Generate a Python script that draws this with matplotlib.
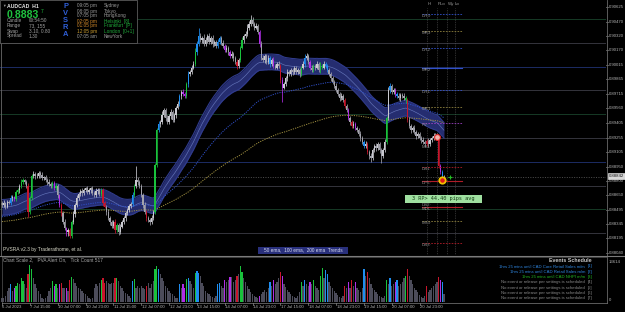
import numpy as np
import matplotlib
matplotlib.use('Agg')
import matplotlib.pyplot as plt
from matplotlib.patches import Rectangle
from matplotlib.lines import Line2D

plt.rcParams['font.family'] = ['Liberation Sans', 'DejaVu Sans']

# ---------------- data ----------------
first_open = 0.8857
closes = [
 .8855,.8857,.8853,.8858,.8857,.8862,.8863,.8861,.8868,.8870,
 .8875,.8879,.8881,.8879,.8875,.8847,.8862,.8885,.8887,.8885,
 .8885,.8888,.8886,.8883,.8884,.8881,.8879,.8877,.8875,.8878,
 .8872,.8875,.8865,.8855,.8846,.8837,.8831,.8826,.8828,.8822,
 .8837,.8845,.8855,.8862,.8866,.8869,.8867,.8870,.8872,.8868,
 .8870,.8872,.8867,.8865,.8869,.8870,.8866,.8870,.8857,.8853,
 .8847,.8841,.8837,.8833,.8837,.8828,.8834,.8826,.8832,.8837,
 .8841,.8846,.8849,.8854,.8856,.8865,.8875,.8881,.8879,.8875,
 .8865,.8855,.8847,.8841,.8839,.8837,.8841,.8847,.8897,.8933,
 .8940,.8942,.8949,.8954,.8946,.8942,.8948,.8952,.8944,.8949,
 .8957,.8961,.8969,.8973,.8971,.8969,.8982,.8992,.8994,.8999,
 .9003,.9015,.9024,.9032,.9028,.9030,.9024,.9028,.9032,.9026,
 .9030,.9024,.9026,.9022,.9026,.9030,.9025,.9022,.9017,.9020,
 .9015,.9011,.9013,.9009,.9005,.9001,.9007,.9020,.9028,.9032,
 .9034,.9041,.9045,.9049,.9045,.9041,.9043,.9036,.9024,.9009,
 .9007,.9011,.9005,.9009,.9003,.9007,.9001,.8999,.9003,.9001,
 .8986,.8978,.8982,.8988,.8994,.8992,.8996,.8994,.8999,.8994,
 .8996,.8992,.8999,.9003,.9009,.9011,.9005,.8999,.8996,.9001,
 .8999,.9003,.8996,.9001,.8999,.9003,.9001,.8996,.8992,.8988,
 .8984,.8980,.8975,.8971,.8967,.8969,.8965,.8959,.8954,.8946,
 .8942,.8938,.8940,.8936,.8933,.8929,.8925,.8921,.8917,.8919,
 .8910,.8906,.8904,.8912,.8917,.8914,.8919,.8912,.8906,.8912,
 .8921,.8946,.8975,.8980,.8973,.8975,.8971,.8969,.8967,.8970,
 .8969,.8967,.8965,.8944,.8938,.8933,.8936,.8931,.8927,.8929,
 .8925,.8923,.8921,.8919,.8922,.8919,.8923,.8925,.8927,.8928,
 .8925,.8896,.8889,.8881,.8884]

wick_up_pips = [
 2,3,1,2,2,3,2,1,2,3, 2,3,2,1,2,3,2,2,3,2, 3,2,2,3,1,2,2,3,2,2, 2,3,2,1,2,2,3,1,2,2,
 2,3,2,3,2,2,3,2,2,3, 2,2,3,2,4,2,2,3,2,2, 2,3,2,2,2,3,2,2,3,2, 2,2,3,2,2,3,2,15,3,2,
 2,2,3,2,2,2,3,2,2,3, 3,2,4,3,2,3,2,3,2,2, 2,3,2,2,3,2,2,3,2,3, 3,4,3,8,3,2,4,3,2,3,
 2,3,2,2,3,2,2,3,2,3, 2,2,3,2,2,3,2,2,3,2, 3,4,3,5,3,2,3,2,2,3, 3,2,2,3,2,2,3,2,2,3,
 2,3,2,2,3,2,2,3,2,2, 3,2,2,3,4,3,2,2,3,2, 2,3,2,4,2,3,2,2,3,2, 2,2,3,2,2,3,2,2,2,3,
 2,2,3,2,2,2,3,2,2,3, 2,2,3,2,2,3,2,2,3,2, 3,2,4,3,2,3,2,2,3,2, 2,3,2,2,3,2,2,3,2,2,
 2,2,3,2,2,3,2,2,3,2, 2,2,2,2,2]
wick_dn_pips = [
 2,2,3,2,1,2,3,2,2,2, 3,2,2,2,3,5,2,2,2,3, 2,2,3,2,2,2,3,2,2,3, 2,2,3,2,3,2,3,4,4,2,
 2,2,3,2,2,2,3,2,2,2, 2,3,2,2,2,3,2,2,3,2, 3,2,3,2,2,3,2,3,2,2, 2,3,2,2,3,2,2,2,3,2,
 2,3,2,3,2,3,2,2,2,2, 2,3,2,2,3,2,2,3,2,2, 3,2,2,3,2,2,2,3,2,2, 2,2,3,2,2,3,2,2,3,2,
 2,3,2,2,3,2,2,3,2,2, 3,2,2,3,2,4,2,2,2,3, 2,2,3,2,2,3,2,2,3,2, 2,3,2,2,3,2,3,2,2,3,
 3,15,2,2,3,2,2,3,2,2, 2,3,2,2,3,2,2,3,2,2, 3,2,2,3,2,2,3,2,2,3, 2,3,2,2,3,2,2,3,2,2,
 3,2,2,3,2,2,3,2,2,3, 2,3,4,2,2,3,2,3,7,2, 2,2,2,3,2,2,3,2,2,3, 2,2,3,2,2,3,2,2,3,2,
 2,3,2,3,2,3,2,2,2,2, 2,2,2,2,2]

# PVSRA bar class: n neutral, g climax up, r climax down, b rising-vol up, m rising-vol down
bar_class = (
 "nnnnnbnmggnggnnrggnn" "nnnnnnnnngmgnmrnnmnr" "gnnnnnnnnnnnnnnnngrr" "nnnnnrgnnnnnnnnbgnnn"
 "nnnrnnnnggbnnnnnnnnn" "nnbnmmgbnnngbbnnnnnn" "nnnnbbnnmnnmnnnrnggn" "nnnnnnnnmnnnnnbnmnnn"
 "rmnnnnnnnnnngnbnnmng" "nnnggnbbnnnnnnnnnrnm" "nrnmnnnnbnrnnnnnnnnn" "ngnbnnmbnnnngrnnnnnn"
 "nnnnrnnnnnnrmbn")

volume = [
 1400,1400,2000,3700,4800,6100,3700,4800,5400,6500, 6100,8200,7100,6100,4800,9500,12600,11200,8200,6100,
 4800,3700,2700,1400,1000,1400,2000,3700,4800,7100, 5400,6100,4800,6100,6500,4800,4800,4800,3700,7500,
 8500,7800,6500,5400,4800,4400,3700,3100,2700,2000, 1400,1000,1400,4800,6100,5400,6500,7500,8200,6500,
 7100,6500,6100,6500,6500,8200,8200,7100,5400,4800, 3700,3100,2700,2000,1400,7100,7800,4800,5400,4800,
 5400,4800,4400,5400,6500,4800,6100,7100,11200,12200, 11200,9500,8200,7100,5400,4800,3700,3100,2700,2000,
 1400,1400,6100,4800,6100,4800,7800,8200,7100,6100, 4800,9900,10500,9900,8800,6500,5400,3700,3100,2700,
 2000,1700,1400,2000,6100,6500,5400,4800,7500,6800, 7500,8500,8500,6800,7500,8800,9500,12200,10200,8200,
 6800,5400,4400,3400,2700,2000,1700,1400,2000,2700, 3400,4100,3400,4800,6800,5400,7500,6100,6800,8200,
 10200,8800,6100,5100,4100,3400,2700,2000,1700,1400, 2000,3400,6800,5400,7500,6100,5400,6800,6100,7500,
 5400,4800,4100,8800,11600,8200,10900,9500,6800,5400, 4800,3700,3100,2400,1700,1400,2000,5400,4800,6800,
 4800,7500,5400,6800,4800,4100,3400,4800,11200,8800, 10200,8200,6100,4800,4100,3400,2700,2000,1700,1400,
 2000,7500,6100,8200,5400,6100,6800,7500,5400,6100, 6800,8200,8800,11200,8800,7500,6100,4800,4100,3400,
 2400,1700,1400,2000,5400,3400,4100,4800,5400,6100, 6800,8500,7500,6800,2700]
volume_max_label = 13614

price_ticks = [0.90625, 0.90470, 0.90320, 0.90170, 0.90015, 0.89865, 0.89715, 0.89560, 0.89405,
               0.89255, 0.89105, 0.88950, 0.88800, 0.88650, 0.88495, 0.88345, 0.88195, 0.88040]
round_levels = [0.9050, 0.9025, 0.9000, 0.8975, 0.8950, 0.8925, 0.8900, 0.8875, 0.8850, 0.8825]
bid_price = 0.88842

time_labels = ["6 Jul 2023", "7 Jul 15:00", "10 Jul 07:00", "10 Jul 23:00", "11 Jul 15:00",
               "12 Jul 07:00", "12 Jul 23:00", "13 Jul 15:00", "14 Jul 07:00", "14 Jul 23:00",
               "17 Jul 15:00", "18 Jul 07:00", "18 Jul 23:00", "19 Jul 15:00", "20 Jul 07:00",
               "20 Jul 23:00"]
time_label_bars = [0, 16, 32, 48, 64, 80, 96, 112, 128, 144, 160, 176, 192, 208, 224, 240]

ema_seeds = {50: 0.8852, 100: 0.8842, 200: 0.8837}

pivot_names = ["DR3", "MR3", "DR2", "MR2", "DR1", "MR1", "PV", "MS1", "DS1", "DP5", "DS2", "MDL", "MS3", "DS3"]
pivot_prices = [0.90552, 0.90373, 0.90195, 0.89985, 0.89754, 0.89575, 0.89407, 0.89177, 0.88946,
                0.88799, 0.88568, 0.88525, 0.88378, 0.88147]
pivot_kinds = ["bd", "od", "bd", "bs", "bd", "od", "pd", "on", "rd", "rs", "nn", "rs", "od", "rd"]

events = ["1hrs 25 mins until CAD Core Retail Sales m/m", "1hrs 25 mins until CAD Retail Sales m/m",
          "1hrs 25 mins until CAD NHPI m/m", "No event or release per settings is scheduled",
          "No event or release per settings is scheduled", "No event or release per settings is scheduled",
          "No event or release per settings is scheduled"]
event_colors = ["#2f86e0", "#2f86e0", "#22b822", "#8a8a8a", "#8a8a8a", "#8a8a8a", "#8a8a8a"]

zones = ["Sydney", "Tokyo", "HongKong", "Helsinki  [8]", "Frankfurt  [P]", "London  [0+1]", "NewYork"]
zone_times = ["09:05 pm", "08:05 pm", "07:05 pm", "02:05 pm", "01:05 pm", "12:05 pm", "07:05 am"]
zone_time_colors = ["#9a9a9a", "#9a9a9a", "#9a9a9a", "#d0882a", "#d0882a", "#d0a030", "#9a9a9a"]
zone_colors = ["#9a9a9a", "#9a9a9a", "#9a9a9a", "#1fa83a", "#1fa83a", "#1fa83a", "#9a9a9a"]
info_keys = ["Candle", "Range", "Swap", "Spread"]
info_vals = ["00:54:50", "73, 155", "3.10, 0.80", "1.30"]

# ---------------- figure ----------------
W, H = 625, 312
fig = plt.figure(figsize=(W / 100, H / 100), dpi=100, facecolor='black')
fx = lambda px: px / W
fy = lambda py: 1 - py / H

PX0, PXS = 2.0, 1.74          # bar pixel geometry
xl = (-PX0 / PXS, (606 - PX0) / PXS)
P_TOP, P_PER_PX = 0.90699, 0.000105
yl = (P_TOP - 255 * P_PER_PX, P_TOP)

ax = fig.add_axes([0, 1 - 255 / H, 606 / W, 255 / H])
ax.set_facecolor('black')
ax.set_xlim(*xl)
ax.set_ylim(*yl)
ax.axis('off')

N = len(closes)
idx = np.arange(N)
c = np.array(closes)
o = np.array([first_open] + closes[:-1])
hi = np.maximum(o, c) + np.array(wick_up_pips) * 0.0001
lo = np.minimum(o, c) - np.array(wick_dn_pips) * 0.0001

# round-number level lines
lvl_cols = {0: '#163a26', 1: '#34343c', 2: '#1c2c64', 3: '#34343c'}
for k, p in enumerate(round_levels):
    ax.axhline(p, color=lvl_cols[(k) % 4], lw=0.7, zorder=1)
ax.axhline(bid_price, color='#6a6a6a', lw=0.5, ls=(0, (1.5, 2)), zorder=1)

# EMAs
def ema(vals, span, seed):
    a = 2.0 / (span + 1)
    out, e = [], seed
    for v in vals:
        e += a * (v - e)
        out.append(e)
    return np.array(out)

e50 = ema(closes, 50, ema_seeds[50])
e100 = ema(closes, 100, ema_seeds[100])
e200 = ema(closes, 200, ema_seeds[200])
hw = 0.00082
ax.fill_between(idx, e50 - hw, e50 + hw, color='#252d70', lw=0, zorder=2)
ax.plot(idx, e50 + hw, color='#303b8c', lw=0.8, zorder=2)
ax.plot(idx, e50 - hw, color='#303b8c', lw=0.8, zorder=2)
ax.plot(idx, e50, color='#7f93d8', lw=0.45, alpha=0.7, zorder=2)
ax.plot(idx, e100, color='#2f4fc8', lw=0.7, ls=(0, (1.2, 1.2)), zorder=2)
ax.plot(idx, e200, color='#a09040', lw=0.7, ls=(0, (1.2, 1.2)), zorder=2)

# candles
cmap = {'g': '#19c23c', 'r': '#c8162c', 'b': '#1f8ef0', 'm': '#b02ee6'}
ccols = []
for i in range(N):
    k = bar_class[i]
    if k in cmap:
        ccols.append(cmap[k])
    else:
        ccols.append('#c9c9d0' if c[i] >= o[i] else '#a2a2ac')
ax.vlines(idx, lo, hi, colors=ccols, lw=0.55, zorder=3)
body_b = np.minimum(o, c)
body_h = np.maximum(np.abs(c - o), 0.00006)
ax.bar(idx, body_h, bottom=body_b, width=0.72, color=ccols, lw=0, zorder=4)

# pivot area: vertical dotted columns
for px in [427, 437, 447, 455]:
    ax.plot([(px - PX0) / PXS] * 2, [yl[0], P_TOP - 8 * P_PER_PX], color='#5a5a5a',
            lw=0.5, ls=(0, (1, 1.5)), zorder=1)
for txt, px in zip(["H", "PLo", "Wy", "Lo"], [428, 438, 448, 455]):
    ax.text((px - PX0) / PXS, P_TOP - 4 * P_PER_PX, txt, color='#9a9a9a', fontsize=3.2,
            va='center', ha='left')

pk_col = {'b': '#3150c8', 'o': '#8c7f3c', 'p': '#9a3fc0', 'r': '#b01c28', 'n': None}
x0p, x1p = (422 - PX0) / PXS, (462 - PX0) / PXS
for name, p, kind in zip(pivot_names, pivot_prices, pivot_kinds):
    col = pk_col[kind[0]]
    if col is not None and kind[1] != 'n':
        ls = (0, (2, 1.5)) if kind[1] == 'd' else '-'
        ax.plot([x0p, x1p], [p, p], color=col, lw=0.8 if kind[1] == 's' else 0.6, ls=ls, zorder=5)
    ax.text(x0p, p - 2.2 * P_PER_PX, name + "\u00b7", color='#8e8e8e', fontsize=3.2,
            va='center', ha='left', zorder=6)

# markers
ax.plot([250], [0.89260], 'o', ms=4.2, mfc='#f3b4ac', mec='#e02a2a', mew=0.8, zorder=7)
ax.plot([253], [0.88809], 'o', ms=4.6, mfc='#e01818', mec='#f0c200', mew=1.3, zorder=7)
ax.plot([257.5], [0.88840], '+', ms=3, color='#22c022', mew=0.8, zorder=7)

# green RP box
ax.add_patch(Rectangle(((405 - PX0) / PXS, P_TOP - 202.5 * P_PER_PX), 77 / PXS, 7.5 * P_PER_PX,
                       facecolor='#9fe0a0', edgecolor='none', zorder=8))
ax.text((443.5 - PX0) / PXS, P_TOP - 198.8 * P_PER_PX, "3 RP> 44.40 pips avg", color='#123a12',
        fontsize=3.8, family='DejaVu Sans Mono', ha='center', va='center', zorder=9)

# price axis labels
for p in price_ticks:
    ax.text(1.004, p, f"{p:.5f}", transform=ax.get_yaxis_transform(), color='#b4b4b4',
            fontsize=3.1, va='center', ha='left', clip_on=False)
    ax.plot([1.0, 1.003], [p, p], transform=ax.get_yaxis_transform(), color='#8a8a8a',
            lw=0.5, clip_on=False)
ax.text(1.004, bid_price + 0.6 * P_PER_PX, f"{bid_price:.5f}", transform=ax.get_yaxis_transform(),
        color='#101010', fontsize=3.1, va='center', ha='left', clip_on=False, zorder=10,
        bbox=dict(boxstyle='square,pad=0.2', fc='#d8d8d8', ec='#f0f0f0', lw=0.4))

# ---------------- volume panel ----------------
vax = fig.add_axes([0, 1 - 302 / H, 606 / W, 46 / H])
vax.set_facecolor('black')
vax.set_xlim(*xl)
vax.set_ylim(0, volume_max_label * 46 / 40)
vax.axis('off')
vcols = [cmap.get(k, '#4c4c5a') for k in bar_class]
vax.bar(idx, volume, width=0.72, color=vcols, lw=0)
vax.text(1.004, volume_max_label, str(volume_max_label), transform=vax.get_yaxis_transform(),
         color='#b4b4b4', fontsize=3.1, va='center', ha='left', clip_on=False)
vax.text(1.004, 0, "0", transform=vax.get_yaxis_transform(),
         color='#b4b4b4', fontsize=3.1, va='bottom', ha='left', clip_on=False)

# frames / separators
def fline(x0, y0, x1, y1, col='#6a6a6a', lw=0.6):
    fig.add_artist(Line2D([fx(x0), fx(x1)], [fy(y0), fy(y1)], color=col, lw=lw))

fline(606.5, 0, 606.5, 303)
fline(0, 255.5, 625, 255.5, '#7a7a7a', 0.8)
fline(1, 0, 1, 255)
fline(2, 257, 606.5, 257, '#555555', 0.5)
fline(2, 257, 2, 302.5, '#555555', 0.5)
fline(2, 302.5, 606.5, 302.5, '#6a6a6a', 0.6)

# time axis
for lab, b in zip(time_labels, time_label_bars):
    px = PX0 + PXS * b
    fline(px, 302.5, px, 304.5, '#8a8a8a', 0.5)
    fig.text(fx(px + 0.5), fy(306.5), lab, color='#b4b4b4', fontsize=3.1, va='center', ha='left')

# ---------------- texts ----------------
def ftext(x, y, s, col='#9a9a9a', fs=3.6, **kw):
    fig.text(fx(x), fy(y), s, color=col, fontsize=fs, va='center', ha=kw.pop('ha', 'left'), **kw)

# info box
fig.add_artist(Rectangle((fx(0), fy(43)), fx(137), 43 / H, transform=fig.transFigure,
                         facecolor='black', edgecolor='#5c5c5c', lw=0.6, zorder=5))
ftext(2.5, 6, "\u25bc", '#9a9a9a', 2.6, zorder=6)
ftext(7, 6, "AUDCAD  H1", '#e6e6e6', 3.7, weight='bold', zorder=6)
ftext(6.5, 14.5, "0.8883", '#1fc23f', 7.6, weight='bold', zorder=6)
ftext(40.5, 11.5, "7", '#1fc23f', 3.4, zorder=6)
for k, (a, b) in enumerate(zip(info_keys, info_vals)):
    ftext(7, 21 + 5 * k, a, '#a0a0a0', 3.4, zorder=6)
    ftext(29, 21 + 5 * k, b, '#a0a0a0', 3.4, zorder=6)
for k, ch in enumerate("PVSRA"):
    ftext(65.5, 7 + 6.8 * k, ch, '#2f5fd8', 5.4, weight='bold', ha='center', zorder=6)
for k in range(7):
    ftext(77, 6 + 5 * k, zone_times[k], zone_time_colors[k], 3.4, zorder=6)
    ftext(104, 6 + 5 * k, zones[k], zone_colors[k], 3.4, zorder=6)

# bottom labels of main chart
ftext(3, 249, "PVSRA v2.3 by Traderathome, et al.", '#d8d8c8', 3.5)
fig.add_artist(Rectangle((fx(258), fy(253.5)), 90 / W, 7 / H, transform=fig.transFigure,
                         facecolor='#29307c', edgecolor='none'))
ftext(303, 250, "50 ema,  100 ema,  200 ema  Trends", '#d8dcf0', 3.4, ha='center')

# volume panel texts
ftext(3, 259.5, "Chart Scale 2,   PVA Alert On,   Tick Count 517", '#a8a8a8', 3.4)
ftext(592, 261, "Events Schedule", '#c8c8c8', 3.8, ha='right', weight='bold')
for k, (ev, col) in enumerate(zip(events, event_colors)):
    yy = 266.5 + 5.3 * k
    ftext(585, yy, ev, col, 3.1, ha='right')
    ftext(592, yy, f"[{k + 1}]", col, 3.1, ha='right')

fig.savefig("out.png", dpi=100, facecolor='black')
